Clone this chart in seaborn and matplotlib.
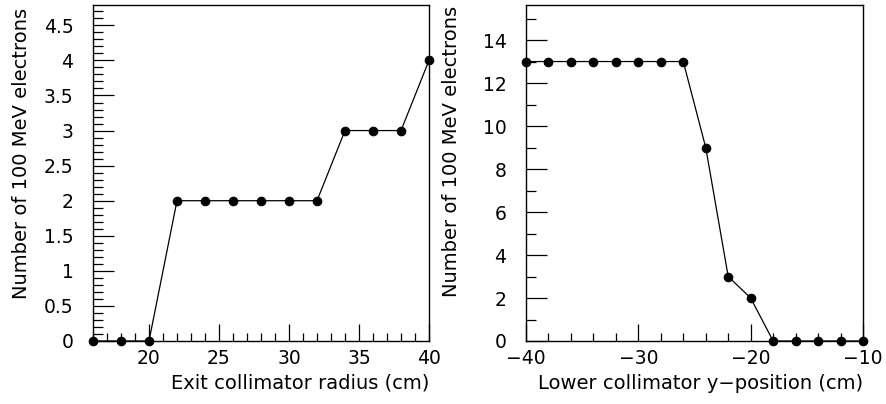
import matplotlib
matplotlib.use("Agg")
import matplotlib.pyplot as plt
import seaborn as sns
import pandas as pd
from matplotlib.ticker import MultipleLocator

radius = [16, 18, 20, 22, 24, 26, 28, 30, 32, 34, 36, 38, 40]
count_radius = [0, 0, 0, 2, 2, 2, 2, 2, 2, 3, 3, 3, 4]

ypos = [-40, -38, -36, -34, -32, -30, -28, -26, -24, -22, -20, -18, -16, -14, -12, -10]
count_ypos = [13, 13, 13, 13, 13, 13, 13, 13, 9, 3, 2, 0, 0, 0, 0, 0]

sns.set_theme(style="white")
plt.rcParams['font.family'] = ['DejaVu Sans']

fig = plt.figure(figsize=(8.87, 4.04), dpi=100)
ax1 = fig.add_axes([93/887, 63/404, 336/887, 336/404])
ax2 = fig.add_axes([526/887, 63/404, 337/887, 336/404])

df1 = pd.DataFrame({"x": radius, "y": count_radius})
df2 = pd.DataFrame({"x": ypos, "y": count_ypos})

for ax, df in [(ax1, df1), (ax2, df2)]:
    sns.lineplot(data=df, x="x", y="y", ax=ax, color="black", linewidth=0.9,
                 marker="o", markersize=6.2, markeredgecolor="black",
                 markerfacecolor="black", clip_on=False, zorder=3)
    for s in ax.spines.values():
        s.set_color("black")
        s.set_linewidth(1.0)
    ax.tick_params(axis="both", which="both", direction="in", left=True, bottom=True,
                   right=False, top=False, labelsize=13.5, colors="black")
    ax.tick_params(axis="y", which="major", length=15, width=0.9, pad=14)
    ax.tick_params(axis="y", which="minor", length=7, width=0.9)
    ax.tick_params(axis="x", which="major", length=12, width=0.9, pad=6)
    ax.tick_params(axis="x", which="minor", length=6, width=0.9)
    ax.set_ylabel("Number of 100 MeV electrons", fontsize=14, color="black", loc="top")

ax1.yaxis.set_label_coords((31 - 93) / 336, (341 - 8) / 336)
ax2.yaxis.set_label_coords((461 - 526) / 337, (341 - 6) / 336)

ax1.set_xlim(16, 40)
ax1.set_ylim(0, 4.79)
ax1.xaxis.set_major_locator(MultipleLocator(5))
ax1.xaxis.set_minor_locator(MultipleLocator(1))
ax1.yaxis.set_minor_locator(MultipleLocator(0.1))
ax1.set_yticks([0, 0.5, 1, 1.5, 2, 2.5, 3, 3.5, 4, 4.5])
ax1.set_yticklabels(["0", "0.5", "1", "1.5", "2", "2.5", "3", "3.5", "4", "4.5"])
ax1.set_xlabel("Exit collimator radius (cm)", fontsize=14, color="black", loc="right")

ax2.set_xlim(-40, -10)
ax2.set_ylim(0, 15.63)
ax2.xaxis.set_major_locator(MultipleLocator(10))
ax2.xaxis.set_minor_locator(MultipleLocator(2))
ax2.yaxis.set_minor_locator(MultipleLocator(1))
ax2.set_yticks([0, 2, 4, 6, 8, 10, 12, 14])
ax2.set_xlabel("Lower collimator y\u2212position (cm)", fontsize=14, color="black", loc="right")

fig.savefig("out.png", dpi=100)
